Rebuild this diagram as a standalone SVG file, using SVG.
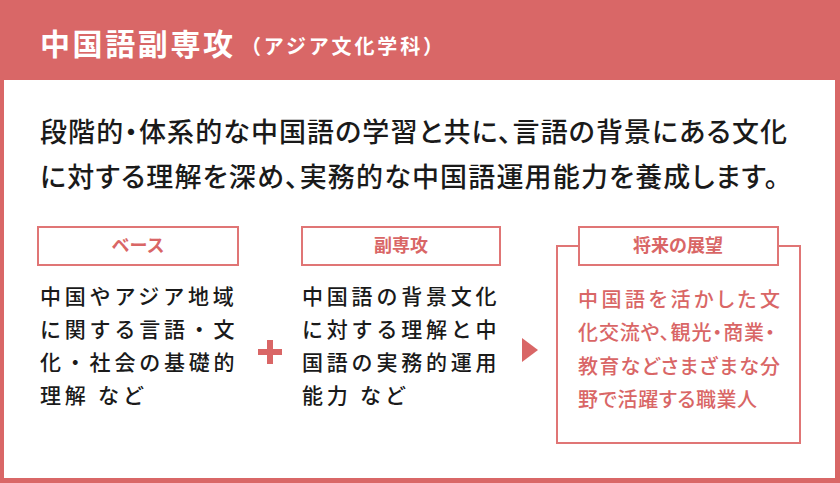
<svg xmlns="http://www.w3.org/2000/svg" width="840" height="483" viewBox="0 0 840 483">
<style>
text{font-family:"Noto Sans CJK JP","Noto Sans",sans-serif}
.title{fill:#fff;font-weight:700}
.intro{fill:#1a1a1a;font-size:27px;font-weight:500;font-feature-settings:"palt"}
.body{fill:#1a1a1a;font-size:21px;font-weight:500;letter-spacing:3.8px}
.lbl{fill:#fff;stroke:#e07575;stroke-width:2}
.lbltxt{fill:#d96666;font-size:18px;font-weight:700;text-anchor:middle}
.red{fill:#d96666;font-size:20px;font-weight:500;font-feature-settings:"palt"}
</style>
<rect x="0" y="0" width="840" height="483" fill="#d96767"/>
<rect x="4" y="80" width="831" height="398" fill="#fff"/>
<g id="header">
<text class="title" x="40" y="55" font-size="30" textLength="193" lengthAdjust="spacing">中国語副専攻</text>
<text class="title" x="241" y="54" font-size="20" textLength="202" lengthAdjust="spacing">（アジア文化学科）</text>
</g>
<g id="intro">
<text class="intro" x="40" y="142" textLength="747" lengthAdjust="spacing">段階的・体系的な中国語の学習と共に、言語の背景にある文化</text>
<text class="intro" x="40" y="187" textLength="738" lengthAdjust="spacing">に対する理解を深め、実務的な中国語運用能力を養成します。</text>
</g>
<g id="base">
<rect class="lbl" x="38" y="227" width="200" height="38"/>
<text class="lbltxt" x="138" y="252">ベース</text>
<text class="body" x="40" y="304">中国やアジア地域</text>
<text class="body" x="40" y="337">に関する言語・文</text>
<text class="body" x="40" y="370">化・社会の基礎的</text>
<text class="body" x="40" y="403">理解 など</text>
</g>
<g id="minor">
<rect class="lbl" x="302" y="227" width="198" height="38"/>
<text class="lbltxt" x="401" y="252">副専攻</text>
<text class="body" x="302" y="304">中国語の背景文化</text>
<text class="body" x="302" y="337">に対する理解と中</text>
<text class="body" x="302" y="370">国語の実務的運用</text>
<text class="body" x="302" y="403">能力 など</text>
</g>
<g id="future">
<rect x="557" y="246" width="243" height="197" fill="#fff" stroke="#e07575" stroke-width="2"/>
<rect class="lbl" x="579" y="227" width="199" height="38"/>
<text class="lbltxt" x="678" y="252">将来の展望</text>
<text class="red" x="578" y="307" textLength="202" lengthAdjust="spacing">中国語を活かした文</text>
<text class="red" x="578" y="340" textLength="197" lengthAdjust="spacing">化交流や、観光・商業・</text>
<text class="red" x="578" y="374" textLength="202" lengthAdjust="spacing">教育などさまざまな分</text>
<text class="red" x="578" y="407" textLength="179" lengthAdjust="spacing">野で活躍する職業人</text>
</g>
<g id="connectors">
<path d="M258 352H282M270 340V364" stroke="#d96666" stroke-width="6" fill="none"/>
<path d="M522 338L538 350L522 362Z" fill="#d96666"/>
</g>
</svg>
